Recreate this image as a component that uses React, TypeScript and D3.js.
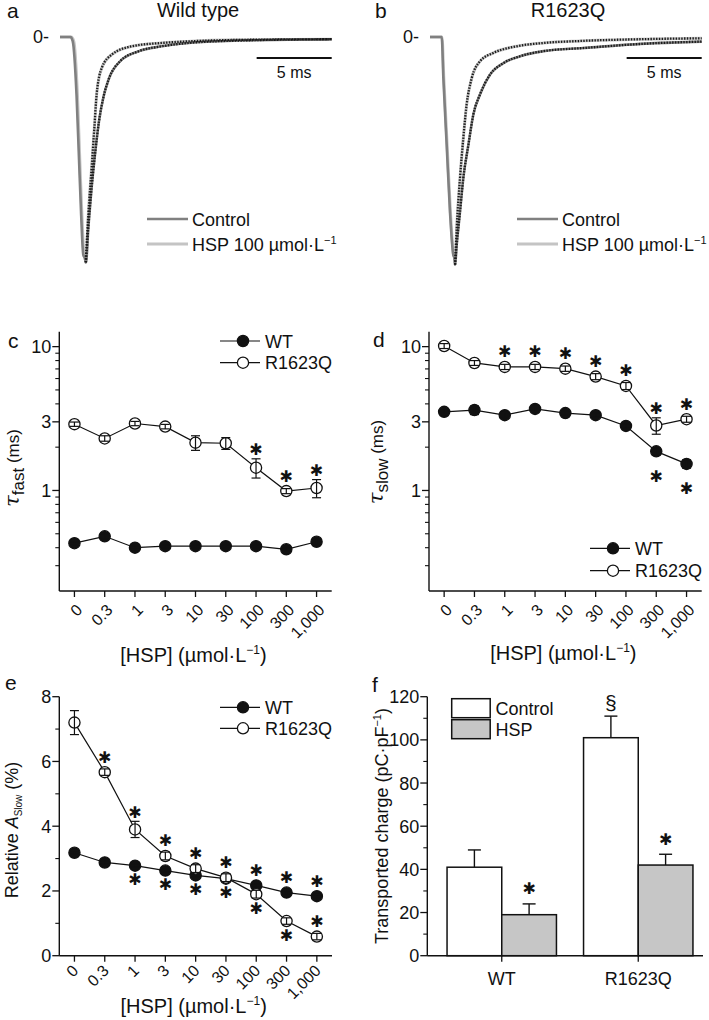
import React, { useRef, useEffect } from 'react';
import * as d3 from 'd3';

// ---- data ----
const concLabels = ['0', '0.3', '1', '3', '10', '30', '100', '300', '1,000'];

// panel c: tau fast (ms)
const tauFastWT = [0.43, 0.48, 0.40, 0.41, 0.41, 0.41, 0.41, 0.39, 0.44];
const tauFastWTErr = [0.01, 0.02, 0.01, 0.01, 0.01, 0.01, 0.01, 0.01, 0.02];
const tauFastR = [2.89, 2.30, 2.92, 2.78, 2.15, 2.13, 1.44, 0.99, 1.04];
const tauFastRErr = [0.1, 0.1, 0.1, 0.1, 0.25, 0.2, 0.22, 0.04, 0.15];

// panel d: tau slow (ms)
const tauSlowWT = [3.52, 3.62, 3.34, 3.69, 3.45, 3.34, 2.81, 1.87, 1.53];
const tauSlowWTErr = [0.15, 0.25, 0.15, 0.15, 0.1, 0.1, 0.1, 0.1, 0.1];
const tauSlowR = [10.1, 7.7, 7.23, 7.23, 7.03, 6.19, 5.33, 2.83, 3.13];
const tauSlowRErr = [0.4, 0.3, 0.3, 0.3, 0.3, 0.3, 0.3, 0.37, 0.15];

// panel e: relative A slow (%)
const aSlowWT = [3.18, 2.88, 2.78, 2.63, 2.48, 2.38, 2.17, 1.95, 1.84];
const aSlowWTErr = [0.05, 0.05, 0.05, 0.05, 0.05, 0.05, 0.05, 0.05, 0.05];
const aSlowR = [7.2, 5.67, 3.9, 3.08, 2.69, 2.41, 1.9, 1.07, 0.59];
const aSlowRErr = [0.37, 0.1, 0.25, 0.12, 0.12, 0.12, 0.12, 0.1, 0.1];

// significance stars: point index, series, -1 above / 1 below
const tauFastStars = [[6, 'R', -1], [7, 'R', -1], [8, 'R', -1]];
const tauSlowStars = [
  [2, 'R', -1], [3, 'R', -1], [4, 'R', -1], [5, 'R', -1], [6, 'R', -1], [7, 'R', -1], [8, 'R', -1],
  [7, 'WT', 1], [8, 'WT', 1],
];
const aSlowStars = [
  [1, 'R', -1], [2, 'R', -1], [3, 'R', -1], [4, 'R', -1], [5, 'R', -1], [6, 'R', 1], [7, 'R', 1], [8, 'R', -1],
  [2, 'WT', 1], [3, 'WT', 1], [4, 'WT', 1], [5, 'WT', 1], [6, 'WT', -1], [7, 'WT', -1], [8, 'WT', -1],
];

// panel f: transported charge (pC/pF)
const barGroups = ['WT', 'R1623Q'];
const barConds = ['Control', 'HSP'];
const chargeMean = [[41, 19], [101, 42]];
const chargeErr = [[8, 5], [10, 5]];

// panels a, b: normalised currents, [time ms, I/Ipeak]
const wtCtrlDown = [[0, 0], [0.7, 0], [0.85, -0.02], [1.1, -0.26], [1.27, -0.56], [1.4, -0.79], [1.55, -0.985], [1.65, -1.0]];
const wtHspDown = [[0, 0], [0.75, 0], [0.92, -0.02], [1.16, -0.26], [1.32, -0.56], [1.45, -0.79], [1.6, -0.985], [1.68, -1.0]];
const wtFitSlow = [[1.73, -1.02], [1.89, -0.86], [2.07, -0.71], [2.35, -0.52], [2.6, -0.38], [2.9, -0.27], [3.25, -0.19], [4.0, -0.11], [5.22, -0.065], [6.78, -0.042], [8.56, -0.027], [12, -0.016], [18.1, -0.01]];
const wtFitFast = [[1.71, -1.02], [1.89, -0.8], [2.11, -0.59], [2.29, -0.41], [2.44, -0.26], [2.78, -0.14], [3.44, -0.08], [4.78, -0.042], [6.78, -0.027], [8.5, -0.02], [12, -0.013], [18.1, -0.01]];

const rCtrlDown = [[0, 0], [0.78, 0], [0.89, -0.185], [1.11, -0.487], [1.33, -0.79], [1.55, -0.985], [1.62, -1.0]];
const rHspDown = [[0, 0], [0.8, 0], [0.92, -0.185], [1.14, -0.487], [1.36, -0.79], [1.57, -0.985], [1.64, -1.0]];
const rFitSlow = [[1.67, -1.03], [1.78, -0.94], [2.0, -0.79], [2.22, -0.638], [2.56, -0.487], [2.89, -0.35], [3.33, -0.26], [4.0, -0.17], [4.89, -0.118], [6.0, -0.087], [7.56, -0.064], [10.2, -0.05], [14.7, -0.029], [18.1, -0.021]];
const rFitFast = [[1.67, -1.03], [1.78, -0.864], [2.0, -0.638], [2.22, -0.457], [2.44, -0.306], [2.78, -0.186], [3.33, -0.11], [4.22, -0.072], [5.78, -0.042], [7.56, -0.027], [10, -0.018], [14, -0.01], [18.1, -0.006]];

const FONT = "'Liberation Sans', Arial, Helvetica, sans-serif";

const addText = (g, x, y, txt, size, anchor = 'start') =>
  g.append('text')
    .attr('x', x)
    .attr('y', y)
    .attr('font-family', FONT)
    .attr('font-size', size)
    .attr('text-anchor', anchor)
    .attr('fill', '#111')
    .text(txt);

// heavy asterisk glyph, centred on (x, cy)
const addStar = (g, x, cy) =>
  g.append('text')
    .attr('x', x)
    .attr('y', cy)
    .attr('dominant-baseline', 'central')
    .attr('font-family', "'DejaVu Sans', sans-serif")
    .attr('font-size', 16)
    .attr('text-anchor', 'middle')
    .attr('fill', '#111')
    .text('✱');

function drawTraces(svg, o) {
  const g = svg.append('g');
  const x = d3.scaleLinear().domain([0, 18.1]).range([o.left, o.right]);
  const y = d3.scaleLinear().domain([-1, 0]).range([258, 37]);
  const line = d3.line().x(d => x(d[0])).y(d => y(d[1])).curve(d3.curveMonotoneX);

  addText(g, o.letterX, 18, o.letter, 21);
  addText(g, o.titleX, 17, o.title, 20, 'middle');
  addText(g, x(0) - 27, 43, '0-', 18);

  // recorded currents
  g.append('path').attr('d', line(o.hspDown.concat(o.fitFast))).attr('fill', 'none')
    .attr('stroke', '#c4c4c4').attr('stroke-width', 3);
  g.append('path').attr('d', line(o.ctrlDown.concat(o.fitSlow))).attr('fill', 'none')
    .attr('stroke', '#808080').attr('stroke-width', 2.6);

  // exponential fits
  [o.fitFast, o.fitSlow].forEach(f => {
    g.append('path').attr('d', line(f)).attr('fill', 'none')
      .attr('stroke', '#1a1a1a').attr('stroke-width', 2.3).attr('stroke-dasharray', '1.4 1.4');
  });

  // scale bar 5 ms
  g.append('line').attr('x1', x(13.1)).attr('x2', x(18.1)).attr('y1', 58).attr('y2', 58)
    .attr('stroke', '#111').attr('stroke-width', 1.8);
  addText(g, x(15.6), 78, '5 ms', 16, 'middle');

  // legend
  const lx = o.legendX;
  g.append('line').attr('x1', lx).attr('x2', lx + 41).attr('y1', 219).attr('y2', 219)
    .attr('stroke', '#808080').attr('stroke-width', 2.6);
  g.append('line').attr('x1', lx).attr('x2', lx + 41).attr('y1', 244).attr('y2', 244)
    .attr('stroke', '#c4c4c4').attr('stroke-width', 3);
  addText(g, lx + 45, 225.5, 'Control', 18);
  const t = addText(g, lx + 45, 250.5, 'HSP 100 µmol·L', 18);
  t.append('tspan').attr('dy', -7).attr('font-size', 11).text('−1');
}

function drawDose(svg, o) {
  const g = svg.append('g');
  const x = d3.scalePoint().domain(concLabels).range([o.left, o.right]).padding(0.5);
  const y = o.log
    ? d3.scaleLog().domain(o.domain).range([o.bottom, o.top])
    : d3.scaleLinear().domain(o.domain).range([o.bottom, o.top]);

  // spines
  g.append('line').attr('x1', o.left).attr('x2', o.left).attr('y1', o.top).attr('y2', o.bottom)
    .attr('stroke', '#111').attr('stroke-width', 1.4);
  g.append('line').attr('x1', o.left).attr('x2', o.right).attr('y1', o.bottom).attr('y2', o.bottom)
    .attr('stroke', '#111').attr('stroke-width', 1.4);

  // y ticks
  o.minor.forEach(v => {
    g.append('line').attr('x1', o.left - 4).attr('x2', o.left).attr('y1', y(v)).attr('y2', y(v))
      .attr('stroke', '#111').attr('stroke-width', 1.1);
  });
  o.major.forEach((v, k) => {
    g.append('line').attr('x1', o.left - 7).attr('x2', o.left).attr('y1', y(v)).attr('y2', y(v))
      .attr('stroke', '#111').attr('stroke-width', 1.3);
    addText(g, o.left - 8, y(v) + 6.5, o.majorLabels[k], 18, 'end');
  });

  // x ticks + rotated labels
  concLabels.forEach(c => {
    const cx = x(c);
    g.append('line').attr('x1', cx).attr('x2', cx).attr('y1', o.bottom).attr('y2', o.bottom + 6)
      .attr('stroke', '#111').attr('stroke-width', 1.3);
    g.append('text')
      .attr('transform', `translate(${cx + o.tdx},${o.bottom + o.tdy}) rotate(-45)`)
      .attr('text-anchor', 'end')
      .attr('dy', '0.35em')
      .attr('font-family', FONT)
      .attr('font-size', 16)
      .attr('fill', '#111')
      .text(c);
  });

  const series = [
    { key: 'WT', v: o.wt, e: o.wtErr, fill: '#111' },
    { key: 'R', v: o.r, e: o.rErr, fill: '#fff' },
  ];
  const line = d3.line().x((d, i) => x(concLabels[i])).y(d => y(d));

  series.forEach(s => {
    g.append('path').attr('d', line(s.v)).attr('fill', 'none').attr('stroke', '#111').attr('stroke-width', 1.2);
    g.selectAll(null).data(s.v).join('circle')
      .attr('cx', (d, i) => x(concLabels[i]))
      .attr('cy', d => y(d))
      .attr('r', 5.6)
      .attr('fill', s.fill)
      .attr('stroke', '#111')
      .attr('stroke-width', 1.3);
    // error bars drawn over the symbols
    s.v.forEach((v, i) => {
      const cx = x(concLabels[i]);
      const yHi = y(v + s.e[i]);
      const yLo = y(v - s.e[i]);
      g.append('line').attr('x1', cx).attr('x2', cx).attr('y1', yHi).attr('y2', yLo)
        .attr('stroke', '#111').attr('stroke-width', 1.2);
      [yHi, yLo].forEach(yy => {
        g.append('line').attr('x1', cx - 4.5).attr('x2', cx + 4.5).attr('y1', yy).attr('y2', yy)
          .attr('stroke', '#111').attr('stroke-width', 1.2);
      });
    });
  });

  // stars
  o.stars.forEach(([i, key, dir]) => {
    const s = key === 'WT' ? series[0] : series[1];
    const v = s.v[i];
    const cx = x(concLabels[i]);
    const cy = dir < 0
      ? Math.min(y(v) - 15, y(v + s.e[i]) - 9)
      : Math.max(y(v) + o.below, y(v - s.e[i]) + 9);
    addStar(g, cx, cy);
  });

  // legend
  [['WT', '#111', o.legY[0]], ['R1623Q', '#fff', o.legY[1]]].forEach(([lab, fill, ly]) => {
    g.append('line').attr('x1', o.legX).attr('x2', o.legX + 40).attr('y1', ly).attr('y2', ly)
      .attr('stroke', '#111').attr('stroke-width', 1.2);
    g.append('circle').attr('cx', o.legX + 23).attr('cy', ly).attr('r', 5.6)
      .attr('fill', fill).attr('stroke', '#111').attr('stroke-width', 1.3);
    addText(g, o.legX + 45, ly + 6.5, lab, 18);
  });

  // letter, axis titles
  addText(g, o.letterX, o.letterY, o.letter, 21);
  const xt = addText(g, (o.left + o.right) / 2 - 2, o.xTitleY, '[HSP] (µmol·L', 20, 'middle');
  xt.append('tspan').attr('dy', -8).attr('font-size', 12).text('−1');
  xt.append('tspan').attr('dy', 8).text(')');

  const yt = g.append('text')
    .attr('transform', `translate(${o.yTitleX},${o.yTitleY}) rotate(-90)`)
    .attr('text-anchor', 'middle')
    .attr('font-family', FONT)
    .attr('font-size', 18)
    .attr('fill', '#111');
  o.yTitle(yt);
}

function drawBars(svg, o) {
  const g = svg.append('g');
  const x0 = d3.scaleBand().domain(barGroups).range([o.bandLeft, o.bandRight]);
  const x1 = d3.scaleBand().domain(barConds).range([-o.barW, o.barW]);
  const y = d3.scaleLinear().domain([0, 120]).range([o.bottom, o.top]);
  const fills = { Control: '#ffffff', HSP: '#c6c6c6' };

  g.append('line').attr('x1', o.left).attr('x2', o.left).attr('y1', o.top).attr('y2', o.bottom)
    .attr('stroke', '#111').attr('stroke-width', 1.4);
  d3.range(10, 120, 20).forEach(v => {
    g.append('line').attr('x1', o.left - 4).attr('x2', o.left).attr('y1', y(v)).attr('y2', y(v))
      .attr('stroke', '#111').attr('stroke-width', 1.1);
  });
  d3.range(0, 121, 20).forEach(v => {
    g.append('line').attr('x1', o.left - 7).attr('x2', o.left).attr('y1', y(v)).attr('y2', y(v))
      .attr('stroke', '#111').attr('stroke-width', 1.3);
    addText(g, o.left - 8, y(v) + 6.5, String(v), 18, 'end');
  });

  barGroups.forEach((grp, gi) => {
    const cx = x0(grp) + x0.bandwidth() / 2;
    barConds.forEach((cond, ci) => {
      const bx = cx + x1(cond);
      const m = chargeMean[gi][ci];
      const e = chargeErr[gi][ci];
      const mid = bx + x1.bandwidth() / 2;
      g.append('line').attr('x1', mid).attr('x2', mid).attr('y1', y(m)).attr('y2', y(m + e))
        .attr('stroke', '#111').attr('stroke-width', 1.4);
      g.append('line').attr('x1', mid - 6.5).attr('x2', mid + 6.5).attr('y1', y(m + e)).attr('y2', y(m + e))
        .attr('stroke', '#111').attr('stroke-width', 1.4);
      g.append('rect').attr('x', bx).attr('y', y(m)).attr('width', x1.bandwidth()).attr('height', y(0) - y(m))
        .attr('fill', fills[cond]).attr('stroke', '#111').attr('stroke-width', 1.5);
      if (cond === 'HSP') addStar(g, mid, y(m + e) - 15);
      if (cond === 'Control' && grp === 'R1623Q') addText(g, mid, y(m + e) - 6, '§', 21, 'middle');
    });
    g.append('line').attr('x1', cx).attr('x2', cx).attr('y1', o.bottom).attr('y2', o.bottom + 6)
      .attr('stroke', '#111').attr('stroke-width', 1.3);
    addText(g, cx, 984.5, grp, 18, 'middle');
  });
  g.append('line').attr('x1', o.left).attr('x2', o.right).attr('y1', o.bottom).attr('y2', o.bottom)
    .attr('stroke', '#111').attr('stroke-width', 1.4);

  // legend
  barConds.forEach((cond, i) => {
    const ly = 698.7 + i * 21;
    g.append('rect').attr('x', 451.7).attr('y', ly).attr('width', 38.5).attr('height', 19)
      .attr('fill', fills[cond]).attr('stroke', '#111').attr('stroke-width', 1.5);
    addText(g, 495.5, ly + 16, cond, 18);
  });

  addText(g, 372, 691.5, 'f', 21);
  const yt = g.append('text')
    .attr('transform', `translate(388,826) rotate(-90)`)
    .attr('text-anchor', 'middle')
    .attr('font-family', FONT)
    .attr('font-size', 18)
    .attr('fill', '#111')
    .text('Transported charge (pC·pF');
  yt.append('tspan').attr('dy', -7).attr('font-size', 11).text('−1');
  yt.append('tspan').attr('dy', 7).text(')');
}

const tauTitle = sub => t => {
  t.append('tspan').attr('font-style', 'italic').attr('font-size', 21).attr('font-family', "'DejaVu Serif', serif").text('τ');
  t.append('tspan').attr('dy', 5).attr('font-size', 17).text(sub);
  t.append('tspan').attr('dy', -5).attr('font-size', 17).text(' (ms)');
};

const App = () => {
  const svgRef = useRef(null);

  useEffect(() => {
    const svg = d3.select(svgRef.current);
    svg.selectAll('*').remove();
    svg.append('rect').attr('width', 709).attr('height', 1020).attr('fill', '#fff');

    drawTraces(svg, {
      left: 60, right: 331.7, letter: 'a', letterX: 7, title: 'Wild type', titleX: 198, legendX: 147,
      ctrlDown: wtCtrlDown, hspDown: wtHspDown, fitSlow: wtFitSlow, fitFast: wtFitFast,
    });
    drawTraces(svg, {
      left: 430, right: 701.7, letter: 'b', letterX: 375, title: 'R1623Q', titleX: 568, legendX: 517,
      ctrlDown: rCtrlDown, hspDown: rHspDown, fitSlow: rFitSlow, fitFast: rFitFast,
    });

    const logMinor = [0.3, 0.4, 0.5, 0.6, 0.7, 0.8, 0.9, 2, 4, 5, 6, 7, 8, 9];
    drawDose(svg, {
      left: 59.3, right: 331.7, top: 331.7, bottom: 591, log: true, domain: [0.2, 12.7],
      major: [1, 3, 10], majorLabels: ['1', '3', '10'], minor: logMinor,
      wt: tauFastWT, wtErr: tauFastWTErr, r: tauFastR, rErr: tauFastRErr,
      stars: tauFastStars, below: 14, tdx: 5, tdy: 16,
      legX: 220, legY: [341, 362.7], letter: 'c', letterX: 8, letterY: 348,
      xTitleY: 662, yTitleX: 19, yTitleY: 468, yTitle: tauTitle('fast'),
    });
    drawDose(svg, {
      left: 429, right: 701.7, top: 331.7, bottom: 591, log: true, domain: [0.2, 12.7],
      major: [1, 3, 10], majorLabels: ['1', '3', '10'], minor: logMinor,
      wt: tauSlowWT, wtErr: tauSlowWTErr, r: tauSlowR, rErr: tauSlowRErr,
      stars: tauSlowStars, below: 25, tdx: 5, tdy: 16,
      legX: 590, legY: [548.3, 570.7], letter: 'd', letterX: 373, letterY: 347,
      xTitleY: 660, yTitleX: 383, yTitleY: 462, yTitle: tauTitle('slow'),
    });
    drawDose(svg, {
      left: 59.3, right: 332, top: 696.7, bottom: 955.7, log: false, domain: [0, 8],
      major: [0, 2, 4, 6, 8], majorLabels: ['0', '2', '4', '6', '8'], minor: [1, 3, 5, 7],
      wt: aSlowWT, wtErr: aSlowWTErr, r: aSlowR, rErr: aSlowRErr,
      stars: aSlowStars, below: 14, tdx: 1, tdy: 12,
      legX: 220, legY: [707.3, 728.3], letter: 'e', letterX: 5, letterY: 690,
      xTitleY: 1013, yTitleX: 18, yTitleY: 830,
      yTitle: t => {
        t.append('tspan').text('Relative ');
        t.append('tspan').attr('font-style', 'italic').text('A');
        t.append('tspan').attr('dy', 4).attr('font-size', 10).text('Slow');
        t.append('tspan').attr('dy', -4).text(' (%)');
      },
    });
    drawBars(svg, {
      left: 427.3, right: 703, top: 696.7, bottom: 955.7, bandLeft: 433.5, bandRight: 706.5, barW: 54.7,
    });
  }, []);

  return (
    <div style={{ position: 'absolute', left: 0, top: 0 }}>
      <svg ref={svgRef} width={709} height={1020} />
    </div>
  );
};

export default App;
